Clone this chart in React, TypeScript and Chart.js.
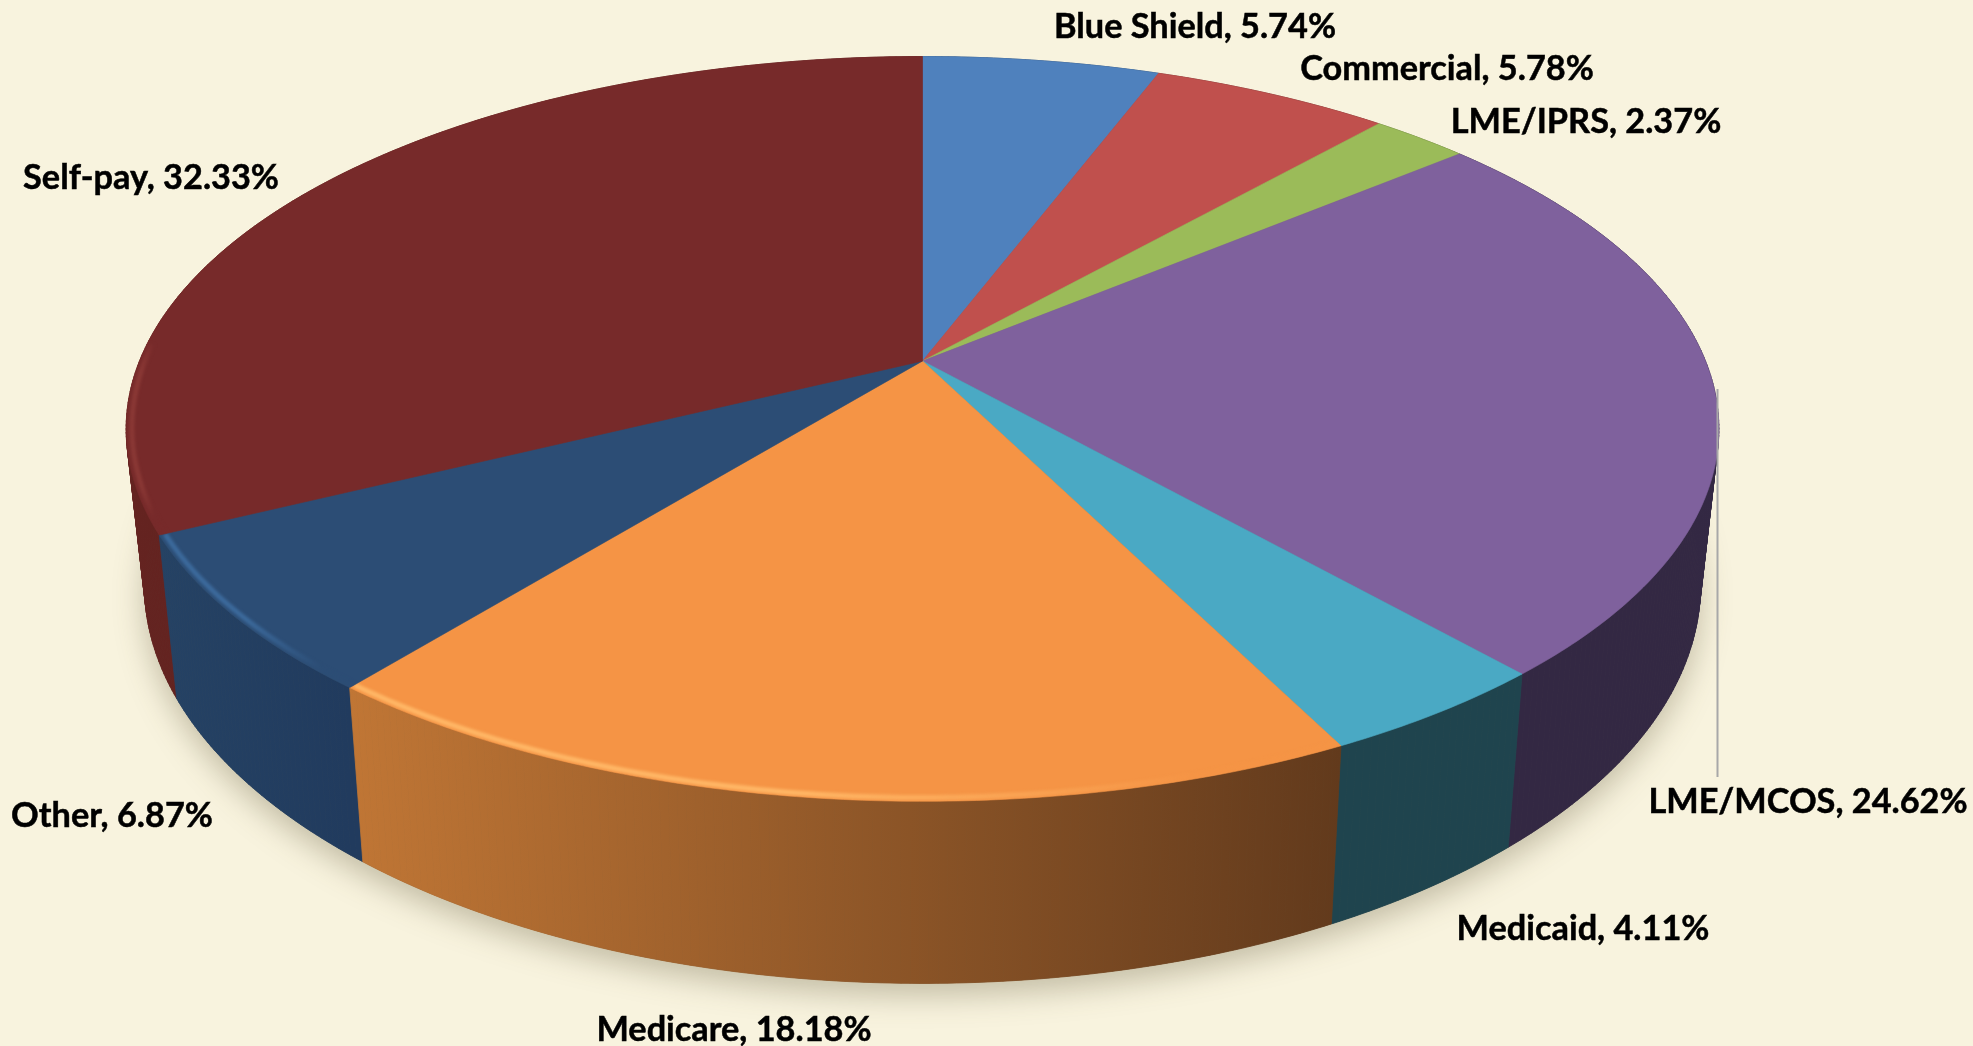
import React, { useEffect, useRef } from "react";
import { Chart, registerables } from "chart.js";

Chart.register(...registerables);

const categories = ["Blue Shield", "Commercial", "LME/IPRS", "LME/MCOS", "Medicaid", "Medicare", "Other", "Self-pay"];
const shares = [5.74, 5.78, 2.37, 24.62, 4.11, 18.18, 6.87, 32.33];

const faceColors = ["#4f81bd", "#c0504d", "#9bbb59", "#7f619d", "#4aa9c4", "#f59445", "#2c4d75", "#772a2a"];
const wallStart = ["#2f4d71", "#73302e", "#5d7035", "#332843", "#1f444e", "#c07635", "#254264", "#642320"];
const wallEnd = ["#2f4d71", "#73302e", "#5d7035", "#332843", "#1f444e", "#623a1c", "#213b5e", "#5e2120"];
const rimColors = [null, null, null, null, null, "#ffb766", "#3c6a9c", "#8a3835"];

const BACKGROUND = "#f8f3de";
const LABEL_FONT = 'bold 34.3px Lato, "Open Sans", sans-serif';
// label centres, in page pixels, same order as categories
const labelAnchors: [number, number][] = [
  [1195, 27], [1447, 69], [1586, 122], [1808, 802], [1583, 929], [734, 1030], [112, 816], [151, 178],
];
const leader = { x: 1717.5, y1: 389, y2: 777 };

// tilted-disc projection of the pie
const CX = 922.5;
const K = 0.1824;
const topRing = { r: 783, y0: 361, h: 360 };
const baseRing = { r: 765, y0: 512.5, h: 385 };
type Ring = typeof topRing;

function project(theta: number, ring: Ring, scale = 1): [number, number] {
  const u = Math.sin(theta) * scale;
  const v = Math.cos(theta) * scale;
  const d = 1 + K * v;
  return [CX + (ring.r * u) / d, ring.y0 - (ring.h * v) / d];
}

function samples(a: number, b: number) {
  const n = Math.max(2, Math.ceil(Math.abs(b - a) / 0.01));
  const out: number[] = [];
  for (let i = 0; i <= n; i++) out.push(a + ((b - a) * i) / n);
  return out;
}

const piePerspective = {
  id: "piePerspective",
  beforeDraw(chart: any) {
    const { ctx, width, height } = chart;
    ctx.save();
    ctx.fillStyle = BACKGROUND;
    ctx.fillRect(0, 0, width, height);
    ctx.restore();
  },
  beforeDatasetsDraw(chart: any) {
    const ctx: CanvasRenderingContext2D = chart.ctx;
    const meta = chart.getDatasetMeta(0);
    const bg: string[] = chart.data.datasets[0].backgroundColor;
    const slices = meta.data.map((arc: any, i: number) => ({
      i,
      a: arc.startAngle + Math.PI / 2,
      b: arc.endAngle + Math.PI / 2,
    }));

    // soft ground shadow
    ctx.save();
    ctx.shadowColor = "rgba(95,85,55,0.34)";
    ctx.shadowBlur = 30;
    ctx.shadowOffsetX = 0;
    ctx.shadowOffsetY = 12;
    ctx.fillStyle = "#5e5a45";
    ctx.beginPath();
    samples(0, Math.PI * 2).forEach((t, j) => {
      const [x, y] = project(t, baseRing);
      j ? ctx.lineTo(x, y) : ctx.moveTo(x, y);
    });
    ctx.closePath();
    ctx.fill();
    ctx.restore();

    // walls, back to front, one small quad per step
    const order = [...slices].sort(
      (p: any, q: any) => Math.cos((q.a + q.b) / 2) - Math.cos((p.a + p.b) / 2)
    );
    order.forEach((s: any) => {
      const ts = samples(s.a, s.b);
      const top = ts.map((t) => project(t, topRing));
      const base = ts.map((t) => project(t, baseRing));
      const xs = top.map((p) => p[0]);
      const grad = ctx.createLinearGradient(Math.min(...xs), 0, Math.max(...xs), 0);
      grad.addColorStop(0, wallStart[s.i]);
      grad.addColorStop(1, wallEnd[s.i]);
      ctx.fillStyle = grad;
      ctx.strokeStyle = grad;
      ctx.lineWidth = 0.8;
      for (let j = 0; j < ts.length - 1; j++) {
        ctx.beginPath();
        ctx.moveTo(top[j][0], top[j][1]);
        ctx.lineTo(top[j + 1][0], top[j + 1][1]);
        ctx.lineTo(base[j + 1][0], base[j + 1][1]);
        ctx.lineTo(base[j][0], base[j][1]);
        ctx.closePath();
        ctx.fill();
        ctx.stroke();
      }
    });

    // top faces
    slices.forEach((s: any) => {
      const trace = () => {
        ctx.beginPath();
        ctx.moveTo(CX, topRing.y0);
        samples(s.a, s.b).forEach((t) => {
          const [x, y] = project(t, topRing);
          ctx.lineTo(x, y);
        });
        ctx.closePath();
      };
      trace();
      ctx.fillStyle = bg[s.i];
      ctx.strokeStyle = bg[s.i];
      ctx.lineWidth = 0.6;
      ctx.fill();
      ctx.stroke();

      const rim = rimColors[s.i];
      if (rim) {
        ctx.save();
        trace();
        ctx.clip();
        // bevel only on the side that faces the viewer
        const ts = samples(s.a, s.b).filter((t) => Math.cos(t) < 0.05);
        const xs = ts.map((t) => project(t, topRing)[0]);
        const grad = ctx.createLinearGradient(Math.min(...xs), 0, Math.max(...xs), 0);
        grad.addColorStop(0, rim);
        grad.addColorStop(0.45, rim);
        grad.addColorStop(0.85, bg[s.i]);
        grad.addColorStop(1, bg[s.i]);
        (ctx as any).filter = "blur(1.8px)";
        ctx.strokeStyle = grad;
        ctx.lineWidth = 5;
        ctx.beginPath();
        ts.forEach((t, j) => {
          const [x, y] = project(t, topRing, 0.993);
          j ? ctx.lineTo(x, y) : ctx.moveTo(x, y);
        });
        ctx.stroke();
        ctx.restore();
      }
    });

    // leader line for LME/MCOS
    ctx.save();
    ctx.strokeStyle = "#a8a8a8";
    ctx.lineWidth = 2;
    ctx.beginPath();
    ctx.moveTo(leader.x, leader.y1);
    ctx.lineTo(leader.x, leader.y2);
    ctx.stroke();
    ctx.restore();

    // labels
    ctx.save();
    ctx.font = LABEL_FONT;
    ctx.fillStyle = "#000";
    ctx.strokeStyle = "#000";
    ctx.lineWidth = 0.5;
    ctx.textAlign = "center";
    ctx.textBaseline = "middle";
    const values: number[] = chart.data.datasets[0].data;
    (chart.data.labels as string[]).forEach((name, i) => {
      const text = `${name}, ${values[i].toFixed(2)}%`;
      ctx.fillText(text, labelAnchors[i][0], labelAnchors[i][1]);
      ctx.strokeText(text, labelAnchors[i][0], labelAnchors[i][1]);
    });
    ctx.restore();
    return false;
  },
};

export default function App() {
  const ref = useRef<HTMLCanvasElement>(null);
  useEffect(() => {
    document.body.style.margin = "0";
    document.body.style.background = BACKGROUND;
    const chart = new Chart(ref.current!, {
      type: "pie",
      data: {
        labels: categories,
        datasets: [{ data: shares, backgroundColor: faceColors, borderWidth: 0 }],
      },
      options: {
        animation: false,
        responsive: false,
        devicePixelRatio: 1,
        plugins: { legend: { display: false }, tooltip: { enabled: false } },
      },
      plugins: [piePerspective],
    } as any);
    return () => chart.destroy();
  }, []);
  return <canvas ref={ref} width={1973} height={1046} style={{ display: "block", width: 1973, height: 1046 }} />;
}
